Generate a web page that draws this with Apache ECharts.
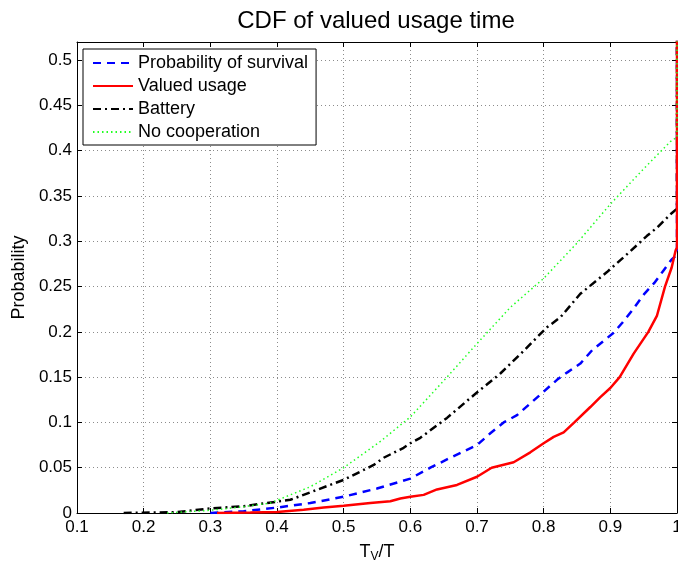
<!DOCTYPE html>
<html>
<head>
<meta charset="utf-8">
<script src="https://cdn.jsdelivr.net/npm/echarts@6/dist/echarts.min.js"></script>
<style>
  html, body { margin: 0; padding: 0; background: #fff; }
  #chart { width: 678px; height: 567px; }
</style>
</head>
<body>
<div id="chart"></div>
<script>
// Empirical CDFs of the normalised valued usage time T_V/T.
// Each curve ends with a jump to 1 at T_V/T = 1.
const seriesNames = ['Probability of survival', 'Valued usage', 'Battery', 'No cooperation'];

const survival = [
  [0.30, 0], [0.35, 0.002], [0.40, 0.006], [0.45, 0.011], [0.50, 0.018],
  [0.55, 0.027], [0.60, 0.038], [0.63, 0.050], [0.66, 0.061], [0.70, 0.075],
  [0.72, 0.088], [0.74, 0.100], [0.76, 0.108], [0.80, 0.134], [0.82, 0.147],
  [0.835, 0.155], [0.855, 0.165], [0.873, 0.180], [0.89, 0.190], [0.905, 0.199],
  [0.918, 0.210], [0.932, 0.223], [0.951, 0.242], [0.966, 0.254], [0.979, 0.267],
  [0.992, 0.280], [1.0, 0.285], [1.0, 1.0]
];

const valued = [
  [0.31, 0], [0.36, 0.0005], [0.40, 0.001], [0.44, 0.0035], [0.47, 0.006],
  [0.50, 0.008], [0.54, 0.011], [0.57, 0.013], [0.585, 0.016], [0.60, 0.018],
  [0.62, 0.020], [0.64, 0.026], [0.67, 0.031], [0.70, 0.040], [0.722, 0.050],
  [0.755, 0.056], [0.78, 0.067], [0.80, 0.077], [0.815, 0.084], [0.83, 0.089],
  [0.846, 0.100], [0.87, 0.117], [0.885, 0.128], [0.90, 0.138], [0.914, 0.150],
  [0.935, 0.176], [0.957, 0.200], [0.97, 0.218], [0.982, 0.250], [0.992, 0.271],
  [0.998, 0.290], [1.0, 0.293], [1.0, 1.0]
];

const battery = [
  [0.17, 0], [0.25, 0.001], [0.30, 0.005], [0.35, 0.0075], [0.40, 0.0125],
  [0.42, 0.0146], [0.46, 0.0256], [0.50, 0.0366], [0.545, 0.053], [0.56, 0.061],
  [0.59, 0.072], [0.60, 0.077], [0.615, 0.083], [0.655, 0.105], [0.695, 0.130],
  [0.735, 0.154], [0.77, 0.179], [0.79, 0.194], [0.805, 0.205], [0.825, 0.216],
  [0.855, 0.242], [0.895, 0.266], [0.93, 0.289], [0.955, 0.306], [0.97, 0.315],
  [0.992, 0.331], [1.0, 0.336], [1.0, 1.0]
];

const noCooperation = [
  [0.235, 0], [0.30, 0.003], [0.35, 0.007], [0.39, 0.011], [0.42, 0.020],
  [0.45, 0.029], [0.50, 0.050], [0.555, 0.079], [0.60, 0.106], [0.655, 0.150],
  [0.70, 0.187], [0.75, 0.227], [0.80, 0.259], [0.85, 0.298], [0.90, 0.341],
  [0.95, 0.380], [0.99, 0.410], [1.0, 0.415], [1.0, 1.0]
];

const FONT = 'Liberation Sans, Arial, Helvetica, sans-serif';

const chart = echarts.init(document.getElementById('chart'), null, { renderer: 'canvas' });

const gridLine = { show: true, lineStyle: { color: '#8c8c8c', width: 1, type: [1, 3] } };
const axisLine = { show: true, onZero: false, lineStyle: { color: '#000', width: 1 } };
const tickIn = { show: true, inside: true, length: 5, lineStyle: { color: '#000' } };

function lineSeries(name, data, color, width, type, z) {
  return {
    name: name,
    type: 'line',
    data: data,
    showSymbol: false,
    symbol: 'none',
    xAxisIndex: 0,
    yAxisIndex: 0,
    z: z,
    lineStyle: { color: color, width: width, type: type },
    itemStyle: { color: color }
  };
}

chart.setOption({
  animation: false,
  backgroundColor: '#fff',
  title: {
    text: 'CDF of valued usage time',
    left: 371,
    textAlign: 'center',
    top: 4,
    textStyle: { fontFamily: FONT, fontSize: 24, fontWeight: 'normal', color: '#000' }
  },
  grid: { left: 77, right: 1, top: 42, bottom: 54, containLabel: false, outerBoundsMode: 'none' },
  legend: {
    orient: 'vertical',
    left: 83,
    top: 49,
    itemWidth: 40,
    itemHeight: 14,
    itemGap: 5,
    padding: [5, 8, 4, 9],
    backgroundColor: '#fff',
    borderColor: '#000',
    borderWidth: 1,
    borderRadius: 0,
    itemStyle: { opacity: 0 },
    textStyle: { fontFamily: FONT, fontSize: 18, lineHeight: 18, color: '#000' },
    data: seriesNames
  },
  xAxis: [
    {
      type: 'value',
      position: 'bottom',
      min: 0.1,
      max: 1,
      interval: 0.1,
      name: '{n|T}{s|V}{n|/T}',
      nameLocation: 'middle',
      nameGap: 29,
      nameTextStyle: {
        rich: {
          n: { fontFamily: FONT, fontSize: 18, color: '#000' },
          s: { fontFamily: FONT, fontSize: 12, color: '#000', verticalAlign: 'bottom', padding: [9, 0, 0, 0] }
        }
      },
      axisLine: axisLine,
      axisTick: tickIn,
      axisLabel: { fontFamily: FONT, fontSize: 17, color: '#000', margin: 6 },
      splitLine: gridLine
    },
    {
      type: 'value',
      position: 'top',
      min: 0.1,
      max: 1,
      interval: 0.1,
      axisLine: axisLine,
      axisTick: tickIn,
      axisLabel: { show: false },
      splitLine: { show: false }
    }
  ],
  yAxis: [
    {
      type: 'value',
      position: 'left',
      min: 0,
      max: 0.52,
      interval: 0.05,
      name: 'Probability',
      nameLocation: 'middle',
      nameGap: 48,
      nameTextStyle: { fontFamily: FONT, fontSize: 18, color: '#000' },
      axisLine: axisLine,
      axisTick: tickIn,
      axisLabel: {
        fontFamily: FONT, fontSize: 17, color: '#000', margin: 5,
        showMaxLabel: false,
        formatter: function (v) { return v > 0.505 ? '' : String(+v.toFixed(2)); }
      },
      splitLine: gridLine
    },
    {
      type: 'value',
      position: 'right',
      min: 0,
      max: 0.52,
      interval: 0.05,
      axisLine: axisLine,
      axisTick: tickIn,
      axisLabel: { show: false },
      splitLine: { show: false }
    }
  ],
  series: [
    lineSeries(seriesNames[0], survival, '#0000ff', 2.5, [8, 6], 3),
    lineSeries(seriesNames[1], valued, '#ff0000', 2.5, 'solid', 5),
    lineSeries(seriesNames[2], battery, '#000000', 2.5, [8, 4, 2, 4], 4),
    lineSeries(seriesNames[3], noCooperation, '#22ff22', 1.5, [1.5, 3], 6)
  ]
});
</script>
</body>
</html>
